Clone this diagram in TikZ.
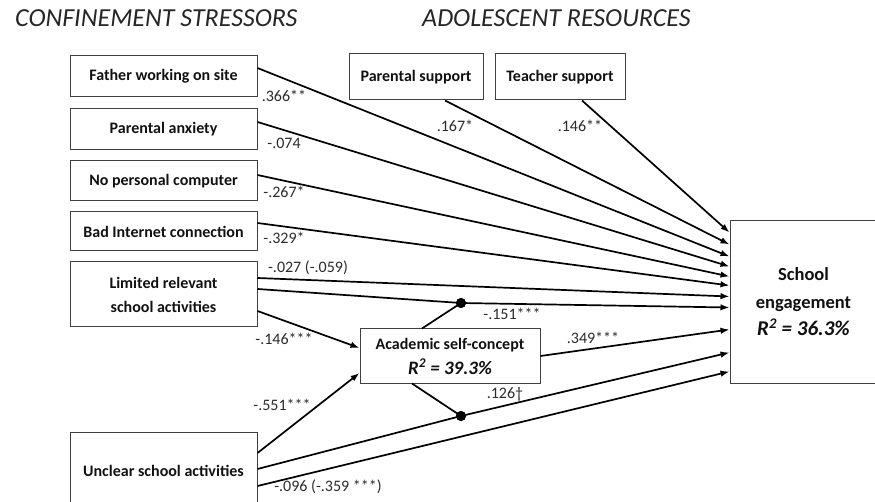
\documentclass[tikz,border=0pt]{standalone}
\usepackage{fontspec}
\setmainfont{Carlito}
\usetikzlibrary{arrows.meta,calc}
\definecolor{boxgray}{HTML}{404040}
\definecolor{txt}{HTML}{111111}
\definecolor{labc}{HTML}{2B2B2B}
\definecolor{headc}{HTML}{262626}
\newcommand\bxfont{\bfseries\fontsize{16}{24}\selectfont}
\newcommand\lbfont{\fontsize{16}{19}\selectfont}
\newcommand\hdfont{\itshape\fontsize{26}{30}\selectfont}
\begin{document}
\begin{tikzpicture}[x=1pt,y=-1pt,
  box/.style={draw=boxgray,line width=1pt,inner sep=0pt,align=center,font=\bxfont,text=txt},
  lab/.style={inner sep=0pt,font=\lbfont,text=labc},
  arr/.style={line width=1.7pt,draw=black,-{Latex[length=9pt,width=6.5pt]}},
  link/.style={line width=1.7pt,draw=black},
  moddot/.style={circle,fill=black,inner sep=0pt,minimum size=10pt},
  head/.style={inner sep=0pt,anchor=base west,font=\hdfont,text=headc}]
\clip (0,0) rectangle (875,502);
% headings
\node[head] (h1) at (15,27) {CONFINEMENT STRESSORS};
\node[head] (h2) at (422,27) {ADOLESCENT RESOURCES};
% left boxes
\node[box,minimum width=187pt,minimum height=41pt] (father) at (163.5,76.5) {Father working on site};
\node[box,minimum width=187pt,minimum height=41pt] (anxiety) at (163.5,129.5) {Parental anxiety};
\node[box,minimum width=187pt,minimum height=40pt] (nopc) at (163.5,181) {No personal computer};
\node[box,minimum width=187pt,minimum height=39pt] (bad) at (163.5,231.5) {Bad Internet connection};
\node[box,minimum width=187pt,minimum height=65pt] (limited) at (163.5,294.5) {Limited relevant\\school activities};
\node[box,minimum width=187pt,minimum height=78pt] (unclear) at (163.5,471) {Unclear school activities};
% top boxes
\node[box,minimum width=134pt,minimum height=46pt] (parsup) at (416,77) {Parental support};
\node[box,minimum width=130pt,minimum height=46pt] (teasup) at (560,77) {Teacher support};
% mediator and outcome
\node[box,minimum width=180pt,minimum height=54pt,font={\bfseries\fontsize{16}{25}\selectfont}] (acad) at (450,356)
  {Academic self-concept\\{\fontsize{19}{25}\selectfont\itshape R\textsuperscript{2} = 39.3\%}};
\node[box,minimum width=147pt,minimum height=162pt,font={\bfseries\fontsize{18.5}{27.5}\selectfont}] (se) at (803.5,302)
  {School\\engagement\\{\fontsize{21}{27.5}\selectfont\itshape R\textsuperscript{2} = 36.3\%}};
% moderation points
\node[moddot] (m1) at (461,303) {};
\node[moddot] (m2) at (461,416) {};
% arrow targets on outcome edge
\coordinate (t1) at ([yshift=-12pt]se.north west);
\coordinate (t2) at ([yshift=-24pt]se.north west);
\coordinate (t3) at ([yshift=-36pt]se.north west);
\coordinate (t4) at ([yshift=-46pt]se.north west);
\coordinate (t5) at ([yshift=-56pt]se.north west);
\coordinate (t6) at ([yshift=-65pt]se.north west);
\coordinate (t7) at ([yshift=-76pt]se.north west);
\coordinate (t8) at ([yshift=-87pt]se.north west);
\coordinate (t9) at ([yshift=-109pt]se.north west);
\coordinate (t10) at ([yshift=-132pt]se.north west);
\coordinate (t11) at ([yshift=-151pt]se.north west);
% paths
\draw[arr] ([xshift=22pt]teasup.south) -- (t1);
\draw[arr] ([xshift=29pt]parsup.south) -- (t2);
\draw[arr] ([yshift=8.5pt]father.east) -- (t3);
\draw[arr] ([yshift=7.5pt]anxiety.east) -- (t4);
\draw[arr] ([yshift=6pt]nopc.east) -- (t5);
\draw[arr] ([yshift=8.5pt]bad.east) -- (t6);
\draw[arr] ([yshift=16.5pt]limited.east) -- (t7);
\draw[arr] ([yshift=5.5pt]limited.east) -- (m1.center) -- (t8);
\draw[arr] ([yshift=-16.5pt]limited.east) -- ([yshift=8pt]acad.west);
\draw[arr] ([yshift=18pt]unclear.east) -- ([yshift=-17pt]acad.west);
\draw[arr] (acad.east) -- (t9);
\draw[arr] ([yshift=2pt]unclear.east) -- (m2.center) -- (t10);
\draw[arr] ([yshift=-15pt]unclear.east) -- (t11);
\draw[link] ([xshift=-28pt]acad.north) -- (m1.center);
\draw[link] ([xshift=-38pt]acad.south) -- (m2.center);
\node[moddot] at (m1) {};
\node[moddot] at (m2) {};
% labels
\node[lab] (l1) at (284,96) {.366**};
\node[lab] (l2) at (284,143) {-.074};
\node[lab] (l3) at (284,192) {-.267*};
\node[lab] (l4) at (284,238) {-.329*};
\node[lab] (l5) at (308,268) {-.027 (-.059)};
\node[lab] (l6) at (284,339) {-.146***};
\node[lab] (l7) at (282,405) {-.551***};
\node[lab] (l8) at (328,487) {-.096 (-.359 ***)};
\node[lab] (l9) at (455,126) {.167*};
\node[lab] (l10) at (580,126) {.146**};
\node[lab] (l11) at (512,314) {-.151***};
\node[lab] (l12) at (593,338) {.349***};
\node[lab] (l13) at (505,394) {.126†};
\end{tikzpicture}
\end{document}
